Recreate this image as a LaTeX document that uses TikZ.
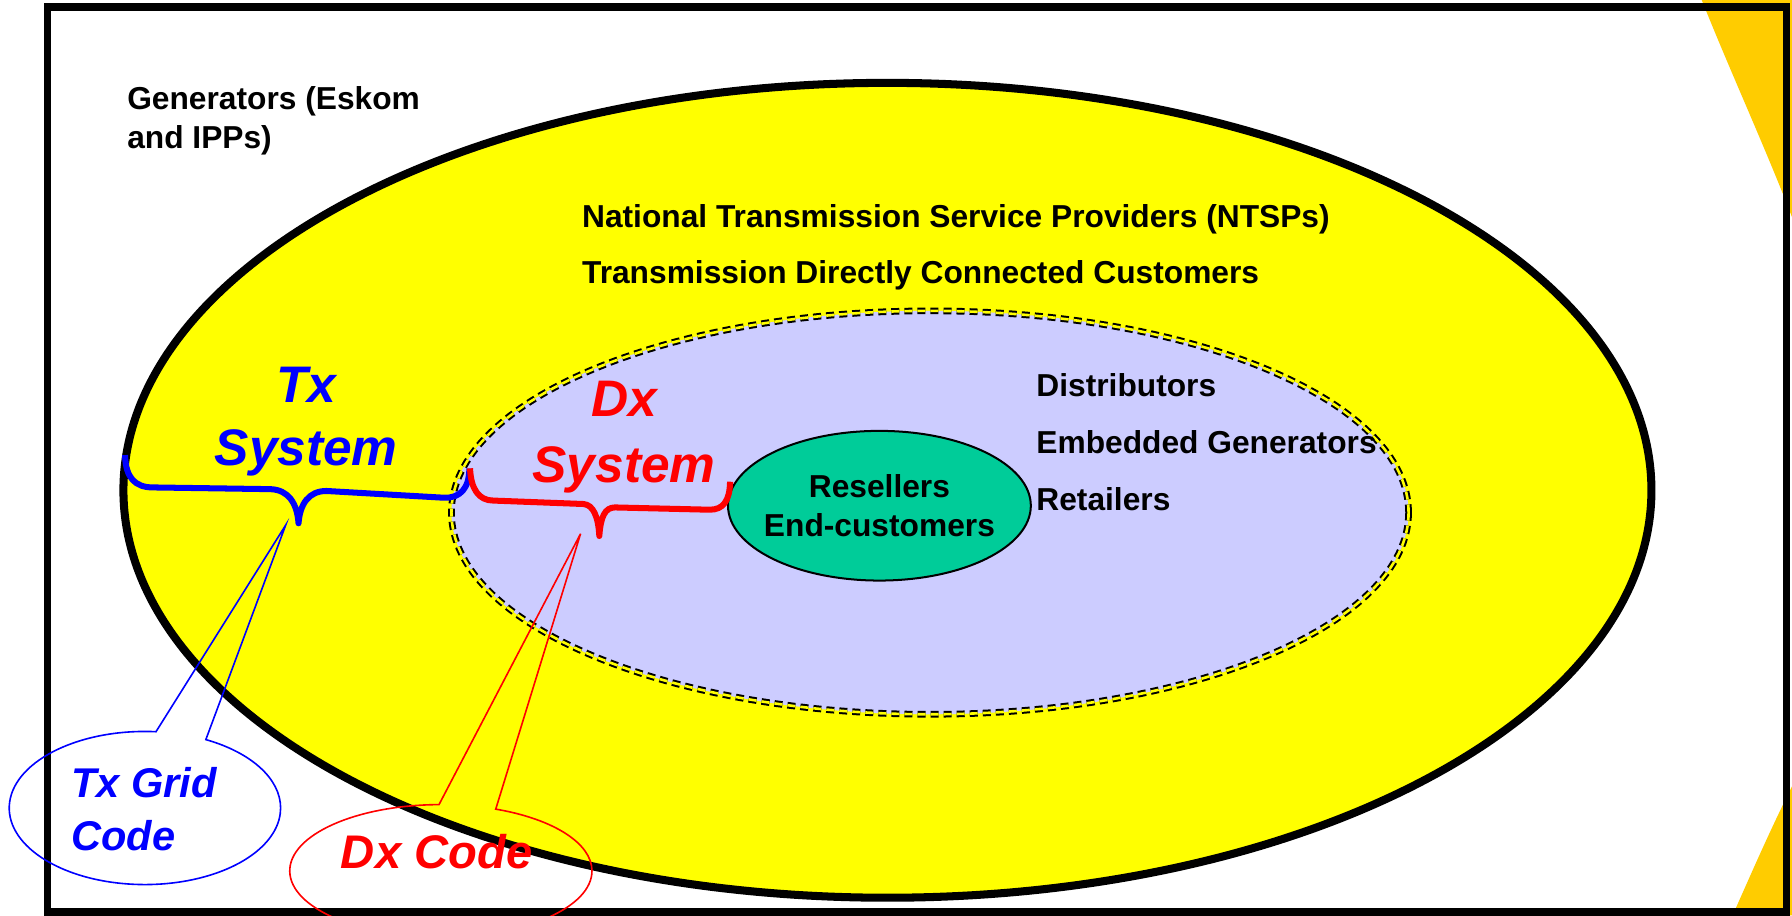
\documentclass[tikz,border=0pt]{standalone}
\usepackage{fontspec}
\setmainfont{Liberation Sans}
\usetikzlibrary{shapes.geometric,shapes.callouts}

\definecolor{gridyellow}{RGB}{255,255,0}
\definecolor{distlilac}{RGB}{204,204,255}
\definecolor{custgreen}{RGB}{0,204,153}
\definecolor{slideorange}{RGB}{255,204,0}
\definecolor{txblue}{RGB}{0,0,255}
\definecolor{dxred}{RGB}{255,0,0}

\tikzset{
  party/.style={font=\bfseries\fontsize{15.8}{19}\selectfont, inner sep=0pt, anchor=base west},
  sysname/.style={font=\bfseries\itshape\fontsize{25.6}{31}\selectfont, inner sep=0pt, anchor=base},
  codename/.style={font=\bfseries\itshape\fontsize{20.7}{25}\selectfont, inner sep=0pt, anchor=base west},
  sysbrace/.style={line width=3pt, line join=round},
  codecall/.style={ellipse callout, draw, line width=0.8pt, inner sep=0pt},
}

\begin{document}
\begin{tikzpicture}[x=0.02cm, y=-0.02cm]
    \useasboundingbox (0,0) rectangle (1568,801);
    \clip (0,0) rectangle (1568,801);
    % slide corners and frame
    \fill[slideorange] (1489,0) .. controls (1515,65) and (1545,130) .. (1568,190) -- (1568,0) -- cycle;
    \fill[slideorange] (1516,801) .. controls (1532,765) and (1548,728) .. (1568,688) -- (1568,801) -- cycle;
    \draw[line width=3.7pt] (41.5,6.1) rectangle (1563,798);
    % nested areas
    \draw[line width=4pt, fill=gridyellow] (776.5,429) ellipse (668.5 and 356.5);
    \draw[fill=distlilac, line width=1pt, dash pattern=on 4pt off 2.5pt, double=gridyellow, double distance=1.3pt] (813.75,448.5) ellipse (418.75 and 176.5);
    \node[ellipse, draw, line width=1pt, fill=custgreen, minimum width=5.3cm, minimum height=2.62cm, inner xsep=-6pt, inner ysep=0pt, align=center, font=\bfseries\fontsize{15.8}{19.3}\selectfont] (resell) at (769.5,442.5) {Resellers\\End-customers};
    % parties
    \node[party] (gen1) at (111,96) {Generators (Eskom};
    \node[party] (gen2) at (111,130) {and IPPs)};
    \node[party] (ntsp) at (509,199) {National Transmission Service Providers (NTSPs)};
    \node[party] (tdcc) at (509,248) {Transmission Directly Connected Customers};
    \node[party] (dist) at (906.5,346.5) {Distributors};
    \node[party] (embg) at (906.5,396.6) {Embedded Generators};
    \node[party] (reta) at (906.5,447) {Retailers};
    % systems
    \node[sysname, txblue] (tx1) at (268,352) {Tx};
    \node[sysname, txblue] (tx2) at (268,407) {System};
    \node[sysname, dxred] (dx1) at (546,364) {Dx};
    \node[sysname, dxred] (dx2) at (546,422) {System};
    \draw[sysbrace, txblue] (109.4,398.2) .. controls (110,418) and (118,426.5) .. (134,426.5) -- (236.6,428) .. controls (252,428.5) and (260,440) .. (261.2,457.9) .. controls (262.5,441) and (270,429.6) .. (285.7,429.6) -- (388.4,435.5) .. controls (403,436) and (410.5,427) .. (410.7,410);
    \draw[sysbrace, dxred] (411.3,409.8) .. controls (412,428) and (419,438) .. (431.7,438) -- (510.4,441) .. controls (519,441.5) and (523.5,452) .. (524.4,469) .. controls (525.5,453) and (529,444) .. (538,444) -- (621,446) .. controls (633,446) and (638.5,438) .. (638.8,421.5);
    % codes
    \coordinate (txtip) at (250,459.4);
    \coordinate (dxtip) at (508,467);
    \node[codecall, draw=txblue, minimum width=4.75cm, minimum height=2.68cm, callout absolute pointer={(txtip)}, callout pointer arc=22] (txcall) at (126.8,707) {};
    \node[codecall, draw=dxred, minimum width=5.29cm, minimum height=2.32cm, callout absolute pointer={(dxtip)}, callout pointer arc=22] (dxcall) at (385.75,762) {};
    \node[codename, txblue] (txcode1) at (62,698) {Tx Grid};
    \node[codename, txblue] (txcode2) at (62,744) {Code};
    \node[codename, dxred, font=\bfseries\itshape\fontsize{23.5}{28}\selectfont] (dxcode) at (298,759.6) {Dx Code};
\end{tikzpicture}
\end{document}
